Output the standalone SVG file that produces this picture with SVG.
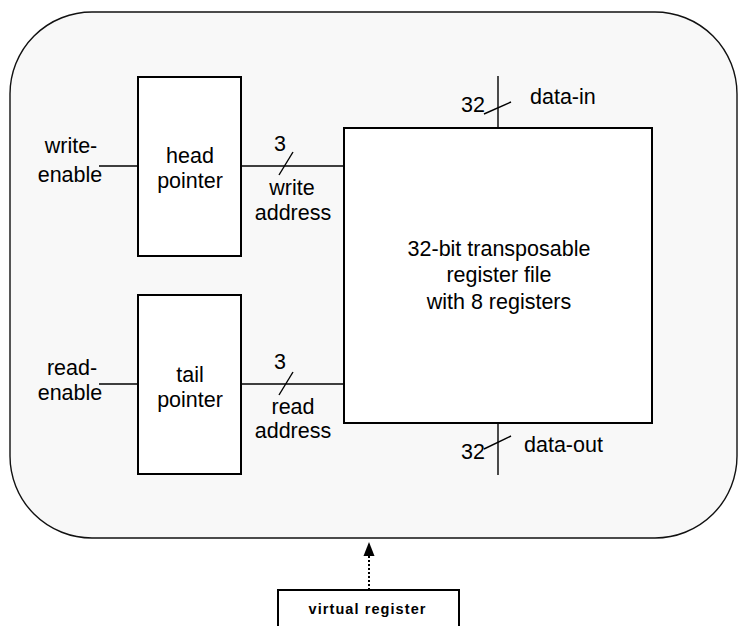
<svg xmlns="http://www.w3.org/2000/svg" width="738" height="626" viewBox="0 0 738 626">
  <style>
    text { font-family: "Liberation Sans", Arial, sans-serif; font-size: 21.5px; fill: #000; }
    .mid { text-anchor: middle; }
    .box { fill: #fff; stroke: #000; stroke-width: 2; }
    .wire { fill: none; stroke: #000; stroke-width: 1.4; }
    .bold { font-weight: bold; font-size: 14.5px; }
  </style>
  <defs>
    <marker id="arrowhead" markerWidth="11" markerHeight="14" refX="5.5" refY="0" orient="auto-start-reverse" markerUnits="userSpaceOnUse" viewBox="0 0 11 14">
      <path d="M0,14 L5.5,0 L11,14 Z" fill="#000"/>
    </marker>
  </defs>

  <!-- enclosing virtual register outline -->
  <g id="virtual-register-outline">
    <rect x="10" y="12" width="727" height="526" rx="82" ry="82" fill="#f8f8f8" stroke="#111" stroke-width="1.4"/>
  </g>

  <g id="head-pointer">
    <rect class="box" x="138" y="77" width="103" height="179"/>
    <text class="mid" x="190" y="163">head</text>
    <text class="mid" x="190" y="188">pointer</text>
  </g>

  <g id="tail-pointer">
    <rect class="box" x="138" y="295" width="103" height="179"/>
    <text class="mid" x="190" y="382">tail</text>
    <text class="mid" x="190" y="407">pointer</text>
  </g>

  <g id="register-file">
    <rect class="box" x="344" y="128" width="308" height="295"/>
    <text class="mid" x="499" y="256">32-bit transposable</text>
    <text class="mid" x="499" y="282">register file</text>
    <text class="mid" x="499" y="309">with 8 registers</text>
  </g>

  <g id="virtual-register">
    <rect class="box" x="278" y="590" width="181" height="50"/>
    <text class="mid bold" x="367" y="614" textLength="117" lengthAdjust="spacing">virtual register</text>
  </g>

  <g id="connectors">
    <!-- write-enable input -->
    <line class="wire" x1="99" y1="166" x2="138" y2="166"/>
    <text class="mid" x="71" y="153">write-</text>
    <text class="mid" x="70" y="182">enable</text>

    <!-- write address bus -->
    <line class="wire" x1="241" y1="166" x2="344" y2="166"/>
    <line class="wire" x1="279" y1="175" x2="293" y2="152"/>
    <text class="mid" x="280" y="151">3</text>
    <text class="mid" x="292" y="195">write</text>
    <text class="mid" x="293" y="220">address</text>

    <!-- read-enable input -->
    <line class="wire" x1="99" y1="384" x2="138" y2="384"/>
    <text class="mid" x="72" y="375">read-</text>
    <text class="mid" x="70" y="400">enable</text>

    <!-- read address bus -->
    <line class="wire" x1="241" y1="384" x2="344" y2="384"/>
    <line class="wire" x1="279" y1="395" x2="293" y2="372"/>
    <text class="mid" x="280" y="369">3</text>
    <text class="mid" x="293" y="414">read</text>
    <text class="mid" x="293" y="438">address</text>

    <!-- data-in bus -->
    <line class="wire" x1="498" y1="76" x2="498" y2="128"/>
    <line class="wire" x1="484" y1="114" x2="511" y2="102"/>
    <text x="461" y="112">32</text>
    <text x="530" y="104">data-in</text>

    <!-- data-out bus -->
    <line class="wire" x1="498" y1="423" x2="498" y2="475"/>
    <line class="wire" x1="484" y1="449" x2="511" y2="436"/>
    <text x="461" y="459">32</text>
    <text x="524" y="452">data-out</text>

    <!-- dotted link from virtual register label -->
    <line x1="369" y1="590" x2="369" y2="555" stroke="#000" stroke-width="2" stroke-dasharray="2,2"/>
    <path d="M363.5,556 L369,542 L374.5,556 Z" fill="#000"/>
  </g>
</svg>
